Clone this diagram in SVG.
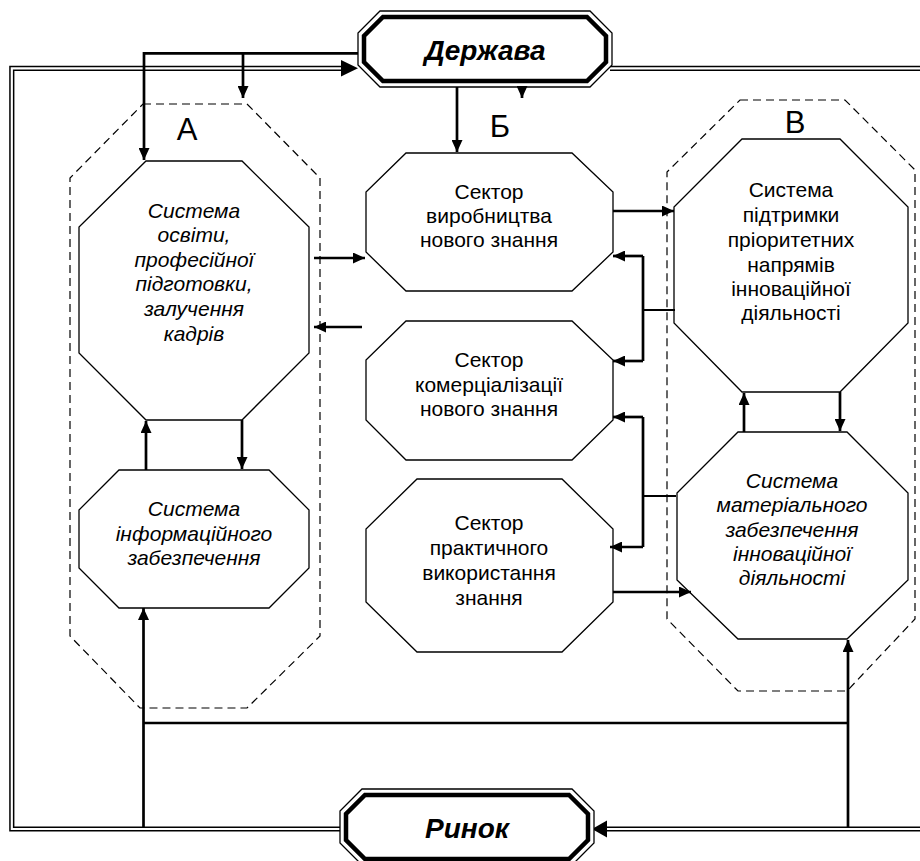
<svg xmlns="http://www.w3.org/2000/svg" width="920" height="861" viewBox="0 0 920 861">
<style>
.t{font-family:"Liberation Sans",Arial,sans-serif;font-size:21px;text-anchor:middle;fill:#000}
.i{font-style:italic}
.big{font-weight:bold;font-style:italic;font-size:28px}
.lbl{font-size:31px}
.oct{fill:#fff;stroke:#000;stroke-width:1.3}
.dash{fill:none;stroke:#000;stroke-width:1.2;stroke-dasharray:8 5}
.conn{fill:none;stroke:#000;stroke-width:2.7}
.thin{fill:none;stroke:#000;stroke-width:2}
.dblk{fill:none;stroke:#000;stroke-width:5.2}
.dwht{fill:none;stroke:#fff;stroke-width:2.2}
.thick{fill:none;stroke:#000;stroke-width:4.5}
</style>
<defs>
<marker id="ah" viewBox="0 0 12 11" refX="12" refY="5.5" markerWidth="12" markerHeight="11" markerUnits="userSpaceOnUse" orient="auto">
<path d="M0,0 L12,5.5 L0,11 z" fill="#000"/>
</marker>
</defs>
<rect width="920" height="861" fill="#fff"/>

<g id="frame">
<path class="dblk" d="M342,68.3 H11.8 V829 H342"/>
<path class="dwht" d="M342,68.3 H11.8 V829 H342"/>
<path class="dblk" d="M610,68.3 H920"/>
<path class="dwht" d="M610,68.3 H920"/>
<path class="dblk" d="M920,829 H606"/>
<path class="dwht" d="M920,829 H606"/>
<polygon points="341,60 358,68.3 341,76.6" fill="#000"/>
<polygon points="607,820.5 592,829 607,837.5" fill="#000"/>
</g>

<g id="group-A">
<polygon class="dash" points="143,104 247,104 320,178 320,636 247,708 140,708 70,636 70,178"/>
<text class="t lbl" x="187" y="140">А</text>
</g>
<g id="group-B">
<text class="t lbl" x="500" y="137">Б</text>
</g>
<g id="group-C">
<polygon class="dash" points="740,100 845,100 915,170 915,619 847,691 738,691 667,619 667,172"/>
<text class="t lbl" x="795" y="133">В</text>
</g>

<g id="derzhava">
<polygon class="oct" points="380,11 590,11 612,33 612,65 590,87 380,87 358,65 358,33"/>
<polygon class="thick" points="383,17 587,17 606,36 606,62 587,81 383,81 364,62 364,36"/>
<text class="t big" x="485" y="60">Держава</text>
</g>

<g id="rynok">
<polygon class="oct" points="362,789 572,789 594,811 594,843 572,865 362,865 340,843 340,811"/>
<polygon class="thick" points="365,795 569,795 588,814 588,840 569,859 365,859 346,840 346,814"/>
<text class="t big" x="467" y="838">Ринок</text>
</g>

<g id="a1">
<polygon class="oct" points="146,161 242,161 309,227 309,353 242,420 146,420 79,353 79,227"/>
<text class="t i" x="194" y="217.5">Система</text>
<text class="t i" x="194" y="242">освіти,</text>
<text class="t i" x="194" y="266.7">професійної</text>
<text class="t i" x="194" y="291.3">підготовки,</text>
<text class="t i" x="194" y="316">залучення</text>
<text class="t i" x="194" y="340.5">кадрів</text>
</g>

<g id="a2">
<polygon class="oct" points="119,470 269,470 309,510 309,568 269,608 119,608 79,568 79,510"/>
<text class="t i" x="194" y="516">Система</text>
<text class="t i" x="194" y="540.5">інформаційного</text>
<text class="t i" x="194" y="565">забезпечення</text>
</g>

<g id="b1">
<polygon class="oct" points="406,153 572,153 613,192 613,252 572,291 406,291 366,252 366,192"/>
<text class="t" x="489" y="199">Сектор</text>
<text class="t" x="489" y="223">виробництва</text>
<text class="t" x="489" y="247">нового знання</text>
</g>

<g id="b2">
<polygon class="oct" points="406,321 572,321 613,360 613,420 572,460 406,460 366,420 366,360"/>
<text class="t" x="489" y="367">Сектор</text>
<text class="t" x="489" y="391.5">комерціалізації</text>
<text class="t" x="489" y="416">нового знання</text>
</g>

<g id="b3">
<polygon class="oct" points="417,479 562,479 613,529 613,602 562,652 417,652 366,602 366,529"/>
<text class="t" x="489" y="530">Сектор</text>
<text class="t" x="489" y="555">практичного</text>
<text class="t" x="489" y="580">використання</text>
<text class="t" x="489" y="605">знання</text>
</g>

<g id="c1">
<polygon class="oct" points="742,139 840,139 908,207 908,323 840,392 742,392 674,323 674,207"/>
<text class="t" x="791" y="197">Система</text>
<text class="t" x="791" y="222">підтримки</text>
<text class="t" x="791" y="247">пріоритетних</text>
<text class="t" x="791" y="272">напрямів</text>
<text class="t" x="791" y="296">інноваційної</text>
<text class="t" x="791" y="320">діяльності</text>
</g>

<g id="c2">
<polygon class="oct" points="738,432 847,432 908,493 908,580 847,639 738,639 677,580 677,493"/>
<text class="t i" x="792" y="488">Система</text>
<text class="t i" x="792" y="512">матеріального</text>
<text class="t i" x="792" y="537">забезпечення</text>
<text class="t i" x="792" y="561">інноваційної</text>
<text class="t i" x="792" y="585">діяльності</text>
</g>

<g id="connectors">
<path class="conn" d="M358,53.3 H144 V160" marker-end="url(#ah)"/>
<path class="conn" d="M243,53.3 V98" marker-end="url(#ah)"/>
<path class="conn" d="M457,87 V152" marker-end="url(#ah)"/>
<path class="conn" d="M522,86 V98" marker-end="url(#ah)"/>
<path class="conn" d="M314,258 H365" marker-end="url(#ah)"/>
<path class="conn" d="M362,327 H314" marker-end="url(#ah)"/>
<path class="conn" d="M146,470 V421" marker-end="url(#ah)"/>
<path class="conn" d="M242,420 V469" marker-end="url(#ah)"/>
<path class="conn" d="M613,211 H674" marker-end="url(#ah)"/>
<path class="conn" d="M643,256 V361"/>
<path class="conn" d="M643,256 H613" marker-end="url(#ah)"/>
<path class="conn" d="M643,361 H613" marker-end="url(#ah)"/>
<path class="thin" d="M643,310 H675"/>
<path class="conn" d="M643,417 V547"/>
<path class="conn" d="M643,417 H613" marker-end="url(#ah)"/>
<path class="conn" d="M643,547 H610" marker-end="url(#ah)"/>
<path class="thin" d="M643,496 H676"/>
<path class="conn" d="M613,592 H691" marker-end="url(#ah)"/>
<path class="conn" d="M744,432 V393" marker-end="url(#ah)"/>
<path class="conn" d="M840,392 V431" marker-end="url(#ah)"/>
<path class="conn" d="M143.5,827 V608" marker-end="url(#ah)"/>
<path class="conn" d="M143.5,723 H848"/>
<path class="conn" d="M848,827 V640" marker-end="url(#ah)"/>
</g>
</svg>
